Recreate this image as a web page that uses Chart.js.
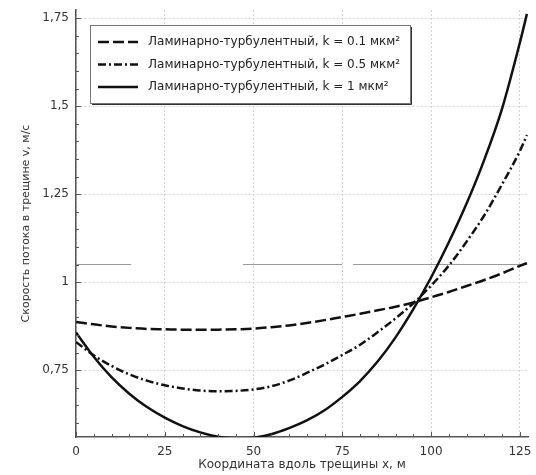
<!DOCTYPE html>
<html>
<head>
<meta charset="utf-8">
<script src="https://cdn.jsdelivr.net/npm/chart.js@4.4.1/dist/chart.umd.min.js"></script>
<style>
    body { margin: 0; background: #ffffff; }
    #wrap { width: 536px; height: 475px; }
</style>
</head>
<body>
<div id="wrap"><canvas id="flowChart" width="536" height="475"></canvas></div>
<script>
// Coordinate along the fracture, m
var xValues = [0, 5, 10, 15, 20, 25, 30, 35, 40, 45, 50, 55, 60, 65, 70, 75, 80, 85, 90, 95, 100, 105, 110, 115, 120, 125, 127];

// Flow velocity, m/s
var velK01 = [0.887, 0.880, 0.874, 0.870, 0.867, 0.866, 0.865, 0.865, 0.865, 0.866, 0.868, 0.872, 0.877, 0.884, 0.892, 0.901, 0.910, 0.920, 0.930, 0.942, 0.957, 0.972, 0.989, 1.006, 1.025, 1.046, 1.054];
var velK05 = [0.830, 0.792, 0.762, 0.738, 0.720, 0.707, 0.698, 0.692, 0.690, 0.691, 0.695, 0.704, 0.720, 0.742, 0.766, 0.793, 0.822, 0.858, 0.897, 0.940, 0.990, 1.047, 1.115, 1.190, 1.278, 1.372, 1.418];
var velK1 = [0.857, 0.788, 0.730, 0.683, 0.645, 0.615, 0.591, 0.573, 0.561, 0.556, 0.558, 0.568, 0.585, 0.607, 0.636, 0.674, 0.719, 0.775, 0.843, 0.923, 1.013, 1.113, 1.223, 1.348, 1.493, 1.680, 1.762];

// thin grey reference line that shows through in the original (with gaps)
var guideX = [0, 15.5, 16, 47, 75, 76, 78, 127];
var guideY = [1.05, 1.05, null, 1.05, 1.05, null, 1.05, 1.05];

var seriesLabels = [
    'Ламинарно-турбулентный, k = 0.1 мкм²',
    'Ламинарно-турбулентный, k = 0.5 мкм²',
    'Ламинарно-турбулентный, k = 1 мкм²'
];

var xTicks = [0, 25, 50, 75, 100, 125];
var yTicks = [0.75, 1, 1.25, 1.5, 1.75];

function toPoints(xs, ys) {
    return xs.map(function(x, i) { return { x: x, y: ys[i] }; });
}

var FONT = 'DejaVu Sans, Verdana, sans-serif';

// minor/major tick marks drawn inside the axes, and the boxed legend
var axisDecor = {
    id: 'axisDecor',
    afterDraw: function(chart) {
        var ctx = chart.ctx;
        var xs = chart.scales.x, ys = chart.scales.y;
        var area = chart.chartArea;
        ctx.save();
        ctx.strokeStyle = '#555';
        ctx.lineWidth = 1;
        ctx.beginPath();
        for (var i = 0; i <= 25; i++) {
            var v = i * 5;
            var px = Math.round(xs.getPixelForValue(v)) + 0.5;
            var len = (v % 25 === 0) ? 5 : 3;
            ctx.moveTo(px, area.bottom);
            ctx.lineTo(px, area.bottom - len);
        }
        for (var j = 12; j <= 35; j++) {
            var vy = j * 0.05;
            var py = Math.round(ys.getPixelForValue(vy)) + 0.5;
            var leny = (j % 5 === 0) ? 5 : 3;
            ctx.moveTo(area.left, py);
            ctx.lineTo(area.left + leny, py);
        }
        ctx.stroke();

        // legend box
        var bx = 90, by = 25, bw = 320, bh = 78;
        ctx.fillStyle = '#ffffff';
        ctx.fillRect(bx, by, bw, bh);
        ctx.strokeStyle = '#777';
        ctx.lineWidth = 1;
        ctx.strokeRect(bx + 0.5, by + 0.5, bw, bh);
        ctx.strokeStyle = '#333';
        ctx.beginPath();
        ctx.moveTo(bx + bw + 1.5, by + 2);
        ctx.lineTo(bx + bw + 1.5, by + bh + 1.5);
        ctx.lineTo(bx + 2, by + bh + 1.5);
        ctx.stroke();

        ctx.font = '12px ' + FONT;
        ctx.textBaseline = 'middle';
        ctx.fillStyle = '#222';
        for (var k = 0; k < 3; k++) {
            var ds = chart.data.datasets[k];
            var ry = by + 17 + k * 22.5;
            ctx.strokeStyle = ds.borderColor;
            ctx.lineWidth = ds.borderWidth;
            ctx.setLineDash(ds.borderDash || []);
            ctx.beginPath();
            ctx.moveTo(bx + 8, ry);
            ctx.lineTo(bx + 48, ry);
            ctx.stroke();
            ctx.setLineDash([]);
            ctx.fillText(ds.label, bx + 58, ry);
        }
        ctx.restore();
    }
};

var ctxFlow = document.getElementById('flowChart');
new Chart(ctxFlow, {
    type: 'line',
    data: {
        datasets: [
            {
                label: seriesLabels[0],
                data: toPoints(xValues, velK01),
                borderColor: '#111',
                borderWidth: 2.5,
                borderDash: [11, 4],
                pointRadius: 0,
                cubicInterpolationMode: 'monotone'
            },
            {
                label: seriesLabels[1],
                data: toPoints(xValues, velK05),
                borderColor: '#111',
                borderWidth: 2.5,
                borderDash: [8, 3, 2, 3],
                pointRadius: 0,
                cubicInterpolationMode: 'monotone'
            },
            {
                label: seriesLabels[2],
                data: toPoints(xValues, velK1),
                borderColor: '#111',
                borderWidth: 2.5,
                pointRadius: 0,
                cubicInterpolationMode: 'monotone'
            },
            {
                label: 'guide',
                data: toPoints(guideX, guideY),
                borderColor: '#9a9a9a',
                borderWidth: 1,
                pointRadius: 0,
                spanGaps: false
            }
        ]
    },
    options: {
        responsive: false,
        animation: false,
        devicePixelRatio: 1,
        layout: {
            padding: { left: 16, right: 8, top: 10, bottom: 2 }
        },
        plugins: {
            legend: { display: false },
            tooltip: { enabled: false }
        },
        scales: {
            x: {
                type: 'linear',
                min: 0,
                max: 127.3,
                afterBuildTicks: function(scale) {
                    scale.ticks = xTicks.map(function(v) { return { value: v }; });
                },
                afterFit: function(scale) {
                    scale.height = 36;
                    scale.paddingLeft = 0;
                    scale.paddingRight = 0;
                },
                grid: {
                    color: '#d2d2d2',
                    lineWidth: 1,
                    drawTicks: false
                },
                border: { color: '#555', width: 1.5, dash: [2, 2] },
                ticks: {
                    padding: 8,
                    color: '#333',
                    font: { family: FONT, size: 12 },
                    maxRotation: 0
                },
                title: {
                    display: true,
                    text: 'Координата вдоль трещины x, м',
                    color: '#333',
                    font: { family: FONT, size: 12 },
                    padding: { top: 2, bottom: 1 }
                }
            },
            y: {
                type: 'linear',
                min: 0.56,
                max: 1.773,
                afterBuildTicks: function(scale) {
                    scale.ticks = yTicks.map(function(v) { return { value: v }; });
                },
                afterFit: function(scale) {
                    scale.width = 60;
                    scale.paddingTop = 0;
                    scale.paddingBottom = 0;
                },
                grid: {
                    color: '#d2d2d2',
                    lineWidth: 1,
                    drawTicks: false
                },
                border: { color: '#555', width: 1.5, dash: [2, 2] },
                ticks: {
                    padding: 7,
                    color: '#333',
                    font: { family: FONT, size: 12 },
                    callback: function(value) {
                        return String(value).replace('.', ',');
                    }
                },
                title: {
                    display: true,
                    text: 'Скорость потока в трещине v, м/с',
                    color: '#333',
                    font: { family: FONT, size: 11 },
                    padding: { top: 4, bottom: 4 }
                }
            }
        }
    },
    plugins: [axisDecor]
});
</script>
</body>
</html>
